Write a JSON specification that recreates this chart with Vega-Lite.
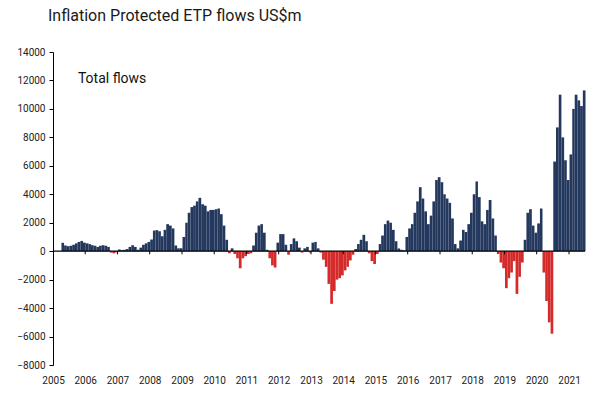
{
  "$schema": "https://vega.github.io/schema/vega-lite/v6.json",
  "width": 532,
  "height": 313,
  "autosize": {"type": "none"},
  "padding": {"left": 53, "top": 52, "right": 15, "bottom": 28},
  "background": "white",
  "config": {
    "view": {"stroke": null},
    "font": "Roboto",
    "axis": {"labelFont": "Roboto", "labelFontSize": 10, "labelColor": "#222222", "grid": false}
  },
  "title": {
    "text": "Inflation Protected ETP flows US$m",
    "anchor": "start",
    "frame": "group",
    "dx": -5,
    "offset": 23,
    "fontSize": 16,
    "fontWeight": "normal",
    "color": "#1a1a1a",
    "font": "Roboto"
  },
  "datasets": {
    "years": [
      {"year": "2006-01-01"}, {"year": "2007-01-01"}, {"year": "2008-01-01"}, {"year": "2009-01-01"},
      {"year": "2010-01-01"}, {"year": "2011-01-01"}, {"year": "2012-01-01"}, {"year": "2013-01-01"},
      {"year": "2014-01-01"}, {"year": "2015-01-01"}, {"year": "2016-01-01"}, {"year": "2017-01-01"},
      {"year": "2018-01-01"}, {"year": "2019-01-01"}, {"year": "2020-01-01"}, {"year": "2021-01-01"}
    ]
  },
  "data": {
    "values": [
      {"date": "2005-04-01", "v": 590}, {"date": "2005-05-01", "v": 400}, {"date": "2005-06-01", "v": 350},
      {"date": "2005-07-01", "v": 380}, {"date": "2005-08-01", "v": 450}, {"date": "2005-09-01", "v": 550},
      {"date": "2005-10-01", "v": 650}, {"date": "2005-11-01", "v": 720}, {"date": "2005-12-01", "v": 600},
      {"date": "2006-01-01", "v": 550}, {"date": "2006-02-01", "v": 500}, {"date": "2006-03-01", "v": 420},
      {"date": "2006-04-01", "v": 380}, {"date": "2006-05-01", "v": 300}, {"date": "2006-06-01", "v": 380},
      {"date": "2006-07-01", "v": 420}, {"date": "2006-08-01", "v": 380}, {"date": "2006-09-01", "v": 300},
      {"date": "2006-10-01", "v": -100}, {"date": "2006-11-01", "v": -150}, {"date": "2006-12-01", "v": -80},
      {"date": "2007-01-01", "v": 120}, {"date": "2007-02-01", "v": 80}, {"date": "2007-03-01", "v": 100},
      {"date": "2007-04-01", "v": 150}, {"date": "2007-05-01", "v": 300}, {"date": "2007-06-01", "v": 420},
      {"date": "2007-07-01", "v": 300}, {"date": "2007-08-01", "v": 100}, {"date": "2007-09-01", "v": 250},
      {"date": "2007-10-01", "v": 450}, {"date": "2007-11-01", "v": 550}, {"date": "2007-12-01", "v": 650},
      {"date": "2008-01-01", "v": 820}, {"date": "2008-02-01", "v": 1450}, {"date": "2008-03-01", "v": 1480},
      {"date": "2008-04-01", "v": 1400}, {"date": "2008-05-01", "v": 1050}, {"date": "2008-06-01", "v": 1500},
      {"date": "2008-07-01", "v": 1900}, {"date": "2008-08-01", "v": 1800}, {"date": "2008-09-01", "v": 1600},
      {"date": "2008-10-01", "v": 400}, {"date": "2008-11-01", "v": 200}, {"date": "2008-12-01", "v": 200},
      {"date": "2009-01-01", "v": 1000}, {"date": "2009-02-01", "v": 2000}, {"date": "2009-03-01", "v": 2700},
      {"date": "2009-04-01", "v": 3100}, {"date": "2009-05-01", "v": 3200}, {"date": "2009-06-01", "v": 3500},
      {"date": "2009-07-01", "v": 3750}, {"date": "2009-08-01", "v": 3300}, {"date": "2009-09-01", "v": 3200},
      {"date": "2009-10-01", "v": 2800}, {"date": "2009-11-01", "v": 2900}, {"date": "2009-12-01", "v": 2900},
      {"date": "2010-01-01", "v": 2950}, {"date": "2010-02-01", "v": 3000}, {"date": "2010-03-01", "v": 2600},
      {"date": "2010-04-01", "v": 1800}, {"date": "2010-05-01", "v": 800}, {"date": "2010-06-01", "v": -150},
      {"date": "2010-07-01", "v": 200}, {"date": "2010-08-01", "v": -200}, {"date": "2010-09-01", "v": -500},
      {"date": "2010-10-01", "v": -1200}, {"date": "2010-11-01", "v": -500}, {"date": "2010-12-01", "v": -350},
      {"date": "2011-01-01", "v": -200}, {"date": "2011-02-01", "v": -150}, {"date": "2011-03-01", "v": 400},
      {"date": "2011-04-01", "v": 1300}, {"date": "2011-05-01", "v": 1800}, {"date": "2011-06-01", "v": 1900},
      {"date": "2011-07-01", "v": 1300}, {"date": "2011-08-01", "v": 100}, {"date": "2011-09-01", "v": -500},
      {"date": "2011-10-01", "v": -1000}, {"date": "2011-11-01", "v": -1150}, {"date": "2011-12-01", "v": 600},
      {"date": "2012-01-01", "v": 1200}, {"date": "2012-02-01", "v": 1200}, {"date": "2012-03-01", "v": 450},
      {"date": "2012-04-01", "v": -250}, {"date": "2012-05-01", "v": 500}, {"date": "2012-06-01", "v": 900},
      {"date": "2012-07-01", "v": 700}, {"date": "2012-08-01", "v": 250}, {"date": "2012-09-01", "v": -100},
      {"date": "2012-10-01", "v": 200}, {"date": "2012-11-01", "v": 300}, {"date": "2012-12-01", "v": -100},
      {"date": "2013-01-01", "v": 600}, {"date": "2013-02-01", "v": 650}, {"date": "2013-03-01", "v": 200},
      {"date": "2013-04-01", "v": -100}, {"date": "2013-05-01", "v": -600}, {"date": "2013-06-01", "v": -1100},
      {"date": "2013-07-01", "v": -2300}, {"date": "2013-08-01", "v": -3700}, {"date": "2013-09-01", "v": -2800},
      {"date": "2013-10-01", "v": -2000}, {"date": "2013-11-01", "v": -1900}, {"date": "2013-12-01", "v": -1700},
      {"date": "2014-01-01", "v": -1350}, {"date": "2014-02-01", "v": -1100}, {"date": "2014-03-01", "v": -650},
      {"date": "2014-04-01", "v": -250}, {"date": "2014-05-01", "v": 150}, {"date": "2014-06-01", "v": 500},
      {"date": "2014-07-01", "v": 800}, {"date": "2014-08-01", "v": 1150}, {"date": "2014-09-01", "v": 700},
      {"date": "2014-10-01", "v": -150}, {"date": "2014-11-01", "v": -700}, {"date": "2014-12-01", "v": -900},
      {"date": "2015-01-01", "v": -200}, {"date": "2015-02-01", "v": 500}, {"date": "2015-03-01", "v": 1100},
      {"date": "2015-04-01", "v": 1900}, {"date": "2015-05-01", "v": 2150}, {"date": "2015-06-01", "v": 2000},
      {"date": "2015-07-01", "v": 1500}, {"date": "2015-08-01", "v": 700}, {"date": "2015-09-01", "v": 190},
      {"date": "2015-10-01", "v": 100}, {"date": "2015-11-01", "v": 70}, {"date": "2015-12-01", "v": 1000},
      {"date": "2016-01-01", "v": 1600}, {"date": "2016-02-01", "v": 1900}, {"date": "2016-03-01", "v": 2700},
      {"date": "2016-04-01", "v": 3500}, {"date": "2016-05-01", "v": 4500}, {"date": "2016-06-01", "v": 3700},
      {"date": "2016-07-01", "v": 2800}, {"date": "2016-08-01", "v": 1900}, {"date": "2016-09-01", "v": 2500},
      {"date": "2016-10-01", "v": 3500}, {"date": "2016-11-01", "v": 5000}, {"date": "2016-12-01", "v": 5200},
      {"date": "2017-01-01", "v": 4850}, {"date": "2017-02-01", "v": 4000}, {"date": "2017-03-01", "v": 3700},
      {"date": "2017-04-01", "v": 3400}, {"date": "2017-05-01", "v": 2300}, {"date": "2017-06-01", "v": 500},
      {"date": "2017-07-01", "v": 200}, {"date": "2017-08-01", "v": 750}, {"date": "2017-09-01", "v": 1500},
      {"date": "2017-10-01", "v": 1350}, {"date": "2017-11-01", "v": 1900}, {"date": "2017-12-01", "v": 2700},
      {"date": "2018-01-01", "v": 4000}, {"date": "2018-02-01", "v": 4900}, {"date": "2018-03-01", "v": 3800},
      {"date": "2018-04-01", "v": 2100}, {"date": "2018-05-01", "v": 1900}, {"date": "2018-06-01", "v": 2900},
      {"date": "2018-07-01", "v": 3600}, {"date": "2018-08-01", "v": 2300}, {"date": "2018-09-01", "v": 1100},
      {"date": "2018-10-01", "v": -200}, {"date": "2018-11-01", "v": -800}, {"date": "2018-12-01", "v": -1200},
      {"date": "2019-01-01", "v": -2600}, {"date": "2019-02-01", "v": -1900}, {"date": "2019-03-01", "v": -1500},
      {"date": "2019-04-01", "v": -700}, {"date": "2019-05-01", "v": -3000}, {"date": "2019-06-01", "v": -1800},
      {"date": "2019-07-01", "v": -800}, {"date": "2019-08-01", "v": 800}, {"date": "2019-09-01", "v": 2700},
      {"date": "2019-10-01", "v": 2950}, {"date": "2019-11-01", "v": 1800}, {"date": "2019-12-01", "v": 1300},
      {"date": "2020-01-01", "v": 1950}, {"date": "2020-02-01", "v": 3000}, {"date": "2020-03-01", "v": -1500},
      {"date": "2020-04-01", "v": -3500}, {"date": "2020-05-01", "v": -5000}, {"date": "2020-06-01", "v": -5800},
      {"date": "2020-07-01", "v": 6300}, {"date": "2020-08-01", "v": 8700}, {"date": "2020-09-01", "v": 11000},
      {"date": "2020-10-01", "v": 8000}, {"date": "2020-11-01", "v": 6400}, {"date": "2020-12-01", "v": 5000},
      {"date": "2021-01-01", "v": 6800}, {"date": "2021-02-01", "v": 10000}, {"date": "2021-03-01", "v": 11000},
      {"date": "2021-04-01", "v": 10600}, {"date": "2021-05-01", "v": 10200}, {"date": "2021-06-01", "v": 11300}
    ]
  },
  "layer": [
    {
      "mark": {"type": "bar", "binSpacing": 0},
      "encoding": {
        "x": {
          "field": "date",
          "timeUnit": "utcyearmonth",
          "type": "temporal",
          "scale": {"domain": [{"year": 2005, "month": 1, "date": 1, "utc": true}, {"year": 2021, "month": 7, "date": 1, "utc": true}], "nice": false},
          "axis": {
            "title": null,
            "format": "%Y",
            "tickCount": {"interval": "year", "step": 1},
            "domain": false,
            "ticks": false,
            "labelPadding": 10,
            "labelFlush": false,
            "labelOverlap": false
          }
        },
        "y": {
          "field": "v",
          "type": "quantitative",
          "scale": {"domain": [-8000, 14000], "nice": false},
          "axis": {
            "title": null,
            "format": "d",
            "values": [-8000, -6000, -4000, -2000, 0, 2000, 4000, 6000, 8000, 10000, 12000, 14000],
            "labelOverlap": false,
            "domainColor": "#000000",
            "tickColor": "#000000",
            "tickSize": 4,
            "labelPadding": 4
          }
        },
        "color": {"condition": {"test": "datum.v < 0", "value": "#d42a2a"}, "value": "#24385e"}
      }
    },
    {
      "data": {"values": [{}]},
      "mark": {"type": "rule", "color": "#000000", "strokeWidth": 1.2},
      "encoding": {
        "y": {
          "datum": 0,
          "type": "quantitative",
          "axis": {
            "title": null,
            "format": "d",
            "values": [-8000, -6000, -4000, -2000, 0, 2000, 4000, 6000, 8000, 10000, 12000, 14000],
            "labelOverlap": false,
            "domainColor": "#000000",
            "tickColor": "#000000",
            "tickSize": 4,
            "labelPadding": 4
          }
        }
      }
    },
    {
      "data": {"name": "years"},
      "mark": {"type": "rule", "color": "#000000", "strokeWidth": 1},
      "encoding": {
        "x": {
          "field": "year",
          "type": "temporal",
          "axis": {
            "title": null,
            "format": "%Y",
            "tickCount": {"interval": "year", "step": 1},
            "domain": false,
            "ticks": false,
            "labelPadding": 10,
            "labelFlush": false,
            "labelOverlap": false
          }
        },
        "y": {
          "datum": 0,
          "type": "quantitative",
          "axis": {
            "title": null,
            "format": "d",
            "values": [-8000, -6000, -4000, -2000, 0, 2000, 4000, 6000, 8000, 10000, 12000, 14000],
            "labelOverlap": false,
            "domainColor": "#000000",
            "tickColor": "#000000",
            "tickSize": 4,
            "labelPadding": 4
          }
        },
        "y2": {"datum": -220}
      }
    },
    {
      "data": {"values": [{}]},
      "mark": {"type": "text", "align": "left", "baseline": "middle", "fontSize": 14, "font": "Roboto", "color": "#111111"},
      "encoding": {
        "x": {
          "datum": {"year": 2005, "month": 10, "date": 10, "utc": true},
          "type": "temporal",
          "axis": {
            "title": null,
            "format": "%Y",
            "tickCount": {"interval": "year", "step": 1},
            "domain": false,
            "ticks": false,
            "labelPadding": 10,
            "labelFlush": false,
            "labelOverlap": false
          }
        },
        "y": {
          "datum": 12100,
          "type": "quantitative",
          "axis": {
            "title": null,
            "format": "d",
            "values": [-8000, -6000, -4000, -2000, 0, 2000, 4000, 6000, 8000, 10000, 12000, 14000],
            "labelOverlap": false,
            "domainColor": "#000000",
            "tickColor": "#000000",
            "tickSize": 4,
            "labelPadding": 4
          }
        },
        "text": {"value": "Total flows"}
      }
    }
  ]
}
